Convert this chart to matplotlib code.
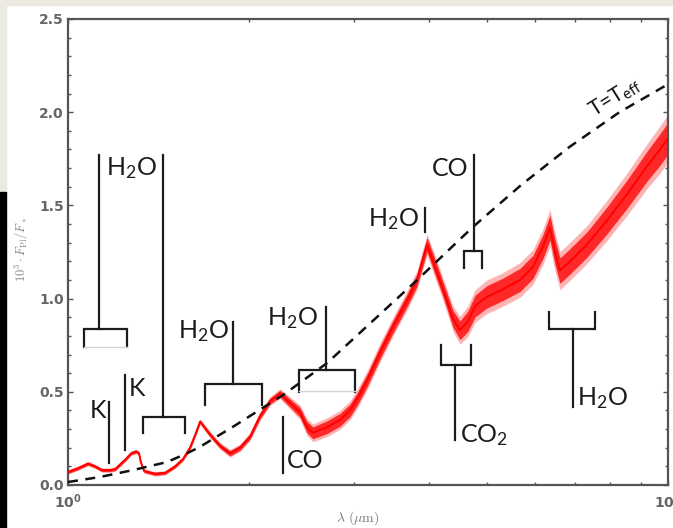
import numpy as np
import matplotlib
matplotlib.use("Agg")
import matplotlib.pyplot as plt
from matplotlib.patches import Rectangle
from matplotlib.ticker import NullFormatter

# Planet-to-star flux ratio (x 10^3) versus wavelength in micron
wavelength = [1.000, 1.039, 1.080, 1.109, 1.139, 1.175, 1.198, 1.221, 1.249, 1.274,
              1.298, 1.313, 1.323, 1.339, 1.396, 1.451, 1.508, 1.555, 1.597, 1.634,
              1.660, 1.725, 1.792, 1.862, 1.935, 2.011, 2.089, 2.171, 2.256, 2.344,
              2.436, 2.502, 2.560, 2.702, 2.841, 2.951, 3.032, 3.150, 3.311, 3.481,
              3.673, 3.817, 3.966, 4.059, 4.217, 4.383, 4.502, 4.642, 4.769, 4.994,
              5.309, 5.666, 5.957, 6.190, 6.358, 6.481, 6.607, 6.866, 7.328, 7.914,
              8.545, 9.226, 9.698, 10.000]
flux_ratio = [0.07, 0.09, 0.115, 0.10, 0.08, 0.08, 0.085, 0.11, 0.14, 0.17,
              0.18, 0.17, 0.12, 0.075, 0.06, 0.065, 0.10, 0.14, 0.20, 0.28,
              0.34, 0.27, 0.21, 0.17, 0.20, 0.26, 0.37, 0.45, 0.49, 0.44,
              0.39, 0.31, 0.28, 0.31, 0.35, 0.40, 0.46, 0.56, 0.71, 0.85,
              0.99, 1.10, 1.29, 1.20, 1.05, 0.89, 0.83, 0.88, 0.96, 1.01,
              1.05, 1.10, 1.17, 1.28, 1.38, 1.25, 1.15, 1.20, 1.29, 1.42,
              1.56, 1.71, 1.80, 1.86]
# half-width of the scatter around the spectrum
spread = [0.008, 0.008, 0.008, 0.008, 0.008, 0.008, 0.008, 0.008, 0.008, 0.008,
          0.008, 0.008, 0.008, 0.008, 0.008, 0.008, 0.008, 0.008, 0.010, 0.010,
          0.010, 0.012, 0.012, 0.014, 0.014, 0.014, 0.016, 0.016, 0.018, 0.022,
          0.026, 0.030, 0.032, 0.034, 0.034, 0.034, 0.034, 0.034, 0.034, 0.034,
          0.034, 0.034, 0.038, 0.040, 0.040, 0.045, 0.050, 0.055, 0.058, 0.060,
          0.060, 0.062, 0.062, 0.064, 0.066, 0.068, 0.068, 0.068, 0.068, 0.072,
          0.076, 0.080, 0.085, 0.085]

# Isothermal atmosphere at the effective temperature
teff_wavelength = [1.000, 1.131, 1.283, 1.462, 1.579, 1.660, 1.900, 2.283, 2.702,
                   3.817, 4.729, 5.700, 6.848, 8.300, 10.000]
teff_ratio = [0.016, 0.043, 0.080, 0.123, 0.170, 0.205, 0.320, 0.483, 0.654,
              1.099, 1.384, 1.611, 1.813, 2.000, 2.150]

y_ticks = [0.0, 0.5, 1.0, 1.5, 2.0, 2.5]
y_tick_labels = ["0.0", "0.5", "1.0", "1.5", "2.0", "2.5"]
x_ticks = [1, 10]
x_tick_labels = [r"$\mathbf{10^{0}}$", r"$\mathbf{10^{1}}$"]

plt.rcParams["mathtext.fontset"] = "custom"
plt.rcParams["mathtext.rm"] = "Lato"
plt.rcParams["mathtext.it"] = "Lato:italic"
plt.rcParams["mathtext.bf"] = "Lato:bold"

W, H = 673, 528
fig = plt.figure(figsize=(W / 100, H / 100), dpi=100)
fig.patch.set_facecolor("white")

# framing strips around the figure
beige = "#ECEAE0"
fig.patches.append(Rectangle((0, 1 - 5 / H), 1, 5 / H, transform=fig.transFigure,
                             color=beige, zorder=-10))
fig.patches.append(Rectangle((0, 1 - 192 / H), 6 / W, 192 / H, transform=fig.transFigure,
                             color=beige, zorder=-10))
fig.patches.append(Rectangle((0, 0), 6 / W, 1 - 192 / H, transform=fig.transFigure,
                             color="black", zorder=-10))

ax = fig.add_axes([68 / W, 1 - 485 / H, 600 / W, 466 / H])
ax.set_xscale("log")
ax.set_xlim(1, 10)
ax.set_ylim(0, 2.5)

wl = np.array(wavelength)
fr = np.array(flux_ratio)
sp = np.array(spread)
ax.fill_between(wl, fr - 1.5 * sp, fr + 1.5 * sp, color="#ff2a2a", alpha=0.35, lw=0,
                zorder=2)
ax.fill_between(wl, fr - sp, fr + sp, color="#ff0f0f", alpha=0.85, lw=0, zorder=2)
ax.plot(wl, fr, color="#ff0000", lw=1.4, zorder=3)
ax.plot(teff_wavelength, teff_ratio, color="#111111", lw=1.8, dashes=(4, 3), zorder=4)

ax.text(8.15, 2.08, r"T=T$_{\rm eff}$", rotation=32, fontsize=15,
        family="Lato", color="#111111", ha="center", va="center", zorder=6)

ink = "#1c1c1c"
lw_ann = 1.6


def bracket(x0, x1, xs, y_bar, y_leg, y_stem):
    ax.plot([x0, x0, x1, x1], [y_leg, y_bar, y_bar, y_leg], color=ink, lw=lw_ann,
            solid_joinstyle="miter", zorder=5)
    ax.plot([xs, xs], [y_bar, y_stem], color=ink, lw=lw_ann, zorder=5)


def stick(x, y0, y1):
    ax.plot([x, x], [y0, y1], color=ink, lw=lw_ann, zorder=5)


def label(x, y, s, ha="center"):
    ax.text(x, y, s, fontsize=18, family="Lato", color=ink, ha=ha, va="center", zorder=6)


# water bands
bracket(1.063, 1.254, 1.126, 0.837, 0.740, 1.77)
ax.plot([1.063, 1.254], [0.740, 0.740], color="#d4d4d4", lw=1, zorder=5)
bracket(1.334, 1.566, 1.440, 0.365, 0.279, 1.77)
label(1.274, 1.70, r"H$_2$O")
bracket(1.692, 2.105, 1.884, 0.542, 0.429, 0.874)
label(1.679, 0.826, r"H$_2$O")
bracket(2.425, 3.010, 2.690, 0.617, 0.499, 0.955)
ax.plot([2.425, 3.010], [0.505, 0.505], color="#d4d4d4", lw=1, zorder=5)
label(2.61, 0.896, r"H$_2$O", ha="right")
stick(3.94, 1.357, 1.486)
label(3.84, 1.427, r"H$_2$O", ha="right")
bracket(6.34, 7.57, 6.94, 0.837, 0.928, 0.418)
label(7.06, 0.467, r"H$_2$O", ha="left")

# potassium lines
stick(1.170, 0.118, 0.445)
label(1.122, 0.397, "K")
stick(1.245, 0.188, 0.590)
label(1.303, 0.520, "K")

# carbon monoxide and dioxide
stick(2.283, 0.064, 0.365)
label(2.318, 0.129, "CO", ha="left")
bracket(4.57, 4.90, 4.75, 1.255, 1.164, 1.77)
label(4.64, 1.70, "CO", ha="right")
bracket(4.18, 4.69, 4.42, 0.644, 0.751, 0.241)
label(4.50, 0.268, r"CO$_2$", ha="left")

# axes styling
spine_c = "#555555"
for s in ax.spines.values():
    s.set_color(spine_c)
    s.set_linewidth(1.6)
ax.set_yticks(y_ticks)
ax.set_yticklabels(y_tick_labels)
ax.set_yticks(np.arange(0, 2.51, 0.1), minor=True)
ax.set_xticks(x_ticks)
ax.set_xticklabels(x_tick_labels)
ax.xaxis.set_minor_formatter(NullFormatter())
ax.tick_params(which="both", direction="in", top=True, right=True, color=spine_c,
               width=1.0)
ax.tick_params(which="major", length=3.5)
ax.tick_params(which="minor", length=2.2)
ax.tick_params(axis="y", labelsize=10, labelcolor="#666666", pad=3)
ax.tick_params(axis="x", labelsize=10, labelcolor="#666666", pad=5)
for t in ax.get_yticklabels():
    t.set_fontweight("bold")
for t in ax.get_xticklabels():
    t.set_math_fontfamily("dejavusans")

fig.text(22 / W, 1 - 250 / H, r"$10^3\cdot F_{\rm Pl}/F_*$", rotation=90,
         fontsize=9, color="#888888", ha="center", va="center", math_fontfamily="cm")
fig.text(358 / W, 1 - 518 / H, r"$\lambda\ (\mu{\rm m})$", fontsize=10,
         color="#777777", ha="center", va="center", math_fontfamily="cm")

fig.savefig("out.png", dpi=100)
